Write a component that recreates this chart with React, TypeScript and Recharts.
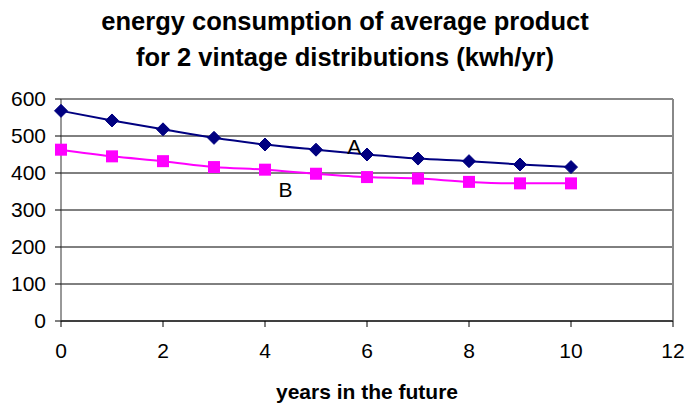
import { LineChart, Line, XAxis, YAxis, CartesianGrid, ReferenceLine, ReferenceDot } from 'recharts';

const years = [0, 1, 2, 3, 4, 5, 6, 7, 8, 9, 10];
const seriesA = [568, 542, 518, 495, 477, 463, 450, 439, 432, 423, 416];
const seriesB = [463, 445, 432, 416, 409, 398, 389, 385, 376, 372, 372];
const xTicks = [0, 2, 4, 6, 8, 10, 12];
const yTicks = [0, 100, 200, 300, 400, 500, 600];

const data = years.map((y, i) => ({ year: y, A: seriesA[i], B: seriesB[i] }));

const Diamond = (props: any) => {
  const { cx, cy, index } = props;
  const s = 6.5;
  return (
    <path
      key={`d-${index}`}
      d={`M${cx},${cy - s} L${cx + s},${cy} L${cx},${cy + s} L${cx - s},${cy} Z`}
      fill="#000080"
      stroke="#000080"
    />
  );
};

const Square = (props: any) => {
  const { cx, cy, index } = props;
  const s = 6;
  return <rect key={`s-${index}`} x={cx - s} y={cy - s} width={2 * s} height={2 * s} fill="#FF00FF" />;
};

export default function App() {
  return (
    <div style={{ position: 'absolute', left: 0, top: 0, width: 687, height: 405, background: '#fff', fontFamily: 'Arial, "Liberation Sans", sans-serif' }}>
      <div style={{ position: 'absolute', left: 0, top: 3, width: 690, textAlign: 'center', fontWeight: 'bold', fontSize: 25.5, lineHeight: '36px', color: '#000' }}>
        energy consumption of average product
        <br />
        for 2 vintage distributions (kwh/yr)
      </div>
      <LineChart width={687} height={405} data={data} margin={{ top: 99, right: 14, bottom: 34, left: 5 }}>
        <CartesianGrid horizontal vertical={false} stroke="#000" strokeWidth={1} />
        <XAxis
          dataKey="year"
          type="number"
          domain={[0, 12]}
          ticks={xTicks}
          height={50}
          tick={{ fill: '#000', fontSize: 21 }}
          tickLine={{ stroke: '#000' }}
          tickSize={6}
          tickMargin={16}
          axisLine={{ stroke: '#000' }}
          label={{ value: 'years in the future', position: 'insideBottom', offset: -28, fill: '#000', fontSize: 21, fontWeight: 'bold' }}
        />
        <YAxis
          domain={[0, 600]}
          ticks={yTicks}
          width={56}
          tick={{ fill: '#000', fontSize: 21 }}
          tickLine={{ stroke: '#000' }}
          tickSize={6}
          tickMargin={9}
          axisLine={{ stroke: '#333' }}
        />
        <ReferenceLine y={600} stroke="#888" strokeWidth={2} />
        <ReferenceLine x={12} stroke="#888" strokeWidth={2} />
        <Line type="monotone" dataKey="A" stroke="#000080" strokeWidth={2} dot={Diamond} isAnimationActive={false} />
        <Line type="monotone" dataKey="B" stroke="#FF00FF" strokeWidth={2} dot={Square} isAnimationActive={false} />
        <ReferenceDot x={5.75} y={472} r={0} fill="none" stroke="none" label={{ value: 'A', position: 'center', fill: '#000', fontSize: 21 }} />
        <ReferenceDot x={4.4} y={354} r={0} fill="none" stroke="none" label={{ value: 'B', position: 'center', fill: '#000', fontSize: 21 }} />
      </LineChart>
    </div>
  );
}
